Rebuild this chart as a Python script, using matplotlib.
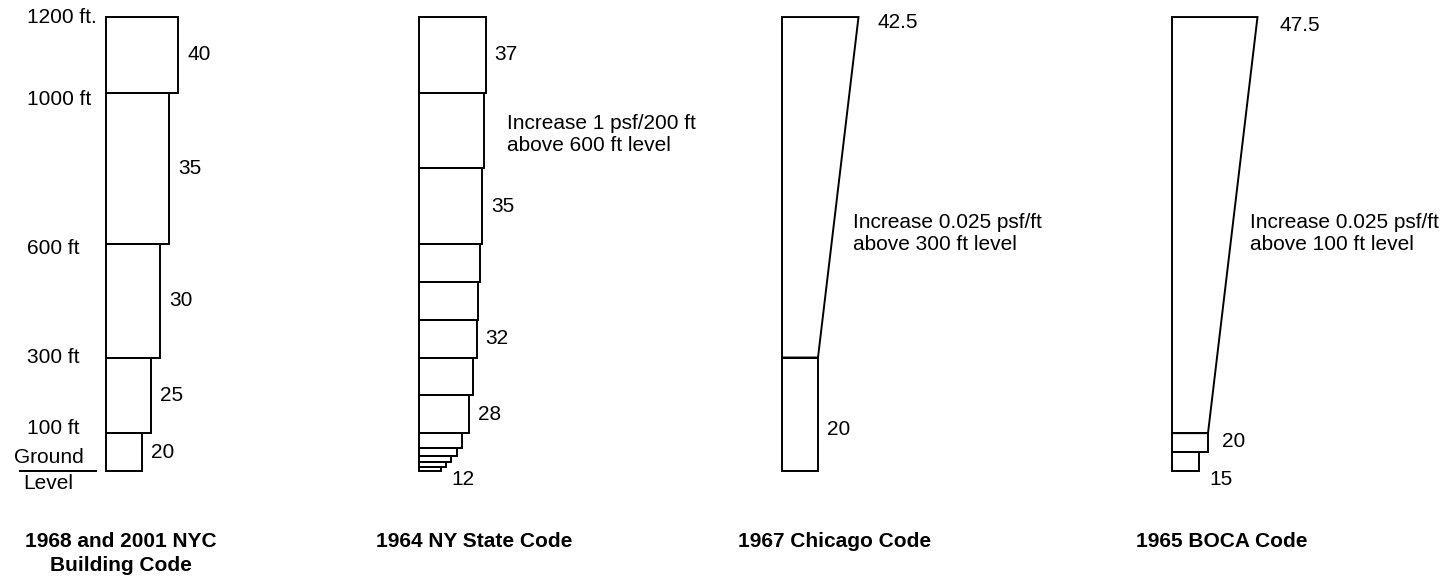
import numpy as np
import matplotlib.pyplot as plt

plt.rcParams['font.family'] = ['Liberation Sans', 'DejaVu Sans']

# 1968 and 2001 NYC Building Code: zone limits (ft) and pressure (psf)
nyc_levels = [0, 100, 300, 600, 1000, 1200]
nyc_psf = [20, 25, 30, 35, 40]
nyc_level_labels = ['100 ft', '300 ft', '600 ft', '1000 ft', '1200 ft.']

# 1964 NY State Code
nys_levels = [0, 10, 25, 40, 60, 100, 200, 300, 400, 500, 600, 800, 1000, 1200]
nys_psf = [12, 15, 18, 21, 24, 28, 30, 32, 33, 34, 35, 36, 37]
nys_shown = ['', '', '', '', '', '28', '', '32', '', '', '35', '', '37']

# 1967 Chicago Code (linear above 300 ft)
chi_levels = [0, 300, 1200]
chi_psf = [20, 20, 42.5]

# 1965 BOCA Code (linear above 100 ft)
boca_levels = [0, 50, 100, 1200]
boca_psf = [15, 20, 20, 47.5]

titles = ['1968 and 2001 NYC\nBuilding Code', '1964 NY State Code',
          '1967 Chicago Code', '1965 BOCA Code']
notes = ['Increase 1 psf/200 ft\nabove 600 ft level',
         'Increase 0.025 psf/ft\nabove 300 ft level',
         'Increase 0.025 psf/ft\nabove 100 ft level']

# layout (pixels)
W, H = 1451, 581
GROUND = 471
FT_PX = 0.3783
PSF_PX = 1.8
panel_x0 = [106, 419, 782, 1172]
title_x = [121, 474, 835, 1222]
level_label_shift = [12, 0, -12, -18, 0]   # ft, nudges for the height labels
FS = 15
LW = 1.4

fig = plt.figure(figsize=(W / 100, H / 100), dpi=100)


def make_axes(x0):
    ax = fig.add_axes([(x0 - 100) / W, 0, 380 / W, 1])
    ax.set_xlim(-100 / PSF_PX, 280 / PSF_PX)
    ax.set_ylim((GROUND - H) / FT_PX, GROUND / FT_PX)
    ax.axis('off')
    return ax


def steps(ax, levels, psf):
    levels = np.asarray(levels, dtype=float)
    ax.barh(levels[:-1], psf, height=np.diff(levels), left=0, align='edge',
            fill=False, edgecolor='black', linewidth=LW)


def taper(ax, base, top, p_base, p_top):
    ax.plot([0, p_base, p_top, 0, 0], [base, base, top, top, base],
            color='black', linewidth=LW, solid_joinstyle='miter')


axs = [make_axes(x0) for x0 in panel_x0]

# NYC
ax = axs[0]
steps(ax, nyc_levels, nyc_psf)
for lo, hi, p in zip(nyc_levels[:-1], nyc_levels[1:], nyc_psf):
    ax.text(p + 5, (lo + hi) / 2, str(p), fontsize=FS, va='center')
for lev, lab, dy in zip(nyc_levels[1:], nyc_level_labels, level_label_shift):
    ax.text(-44, lev + dy, lab, fontsize=FS, va='center', ha='left')
ax.plot([-48, -5.5], [0, 0], color='black', linewidth=LW)
ax.text(-32, 37, 'Ground', fontsize=FS, ha='center', va='center')
ax.text(-32, -32, 'Level', fontsize=FS, ha='center', va='center')

# NY State
ax = axs[1]
steps(ax, nys_levels, nys_psf)
for lo, hi, p, s in zip(nys_levels[:-1], nys_levels[1:], nys_psf, nys_shown):
    if s:
        ax.text(p + 5, (lo + hi) / 2, s, fontsize=FS, va='center')
ax.text(nys_psf[0] + 6, -22, str(nys_psf[0]), fontsize=FS, va='center')
ax.text(49, 889, notes[0], fontsize=FS, va='center', linespacing=1.2)

# Chicago
ax = axs[2]
steps(ax, chi_levels[:2], chi_psf[:1])
taper(ax, chi_levels[1], chi_levels[2], chi_psf[1], chi_psf[2])
ax.text(25, 110, '20', fontsize=FS, va='center')
ax.text(53, 1185, '42.5', fontsize=FS, va='center')
ax.text(39.5, 628, notes[1], fontsize=FS, va='center', linespacing=1.2)

# BOCA
ax = axs[3]
steps(ax, boca_levels[:3], boca_psf[:2])
taper(ax, boca_levels[2], boca_levels[3], boca_psf[2], boca_psf[3])
ax.text(27.8, 77, '20', fontsize=FS, va='center')
ax.text(21, -22, '15', fontsize=FS, va='center')
ax.text(60, 1177, '47.5', fontsize=FS, va='center')
ax.text(43.3, 627, notes[2], fontsize=FS, va='center', linespacing=1.2)

for x, t in zip(title_x, titles):
    fig.text(x / W, 1 - 532 / H, t, fontsize=FS, fontweight='bold',
             ha='center', va='top', linespacing=1.35)

fig.savefig('out.png', dpi=100)
